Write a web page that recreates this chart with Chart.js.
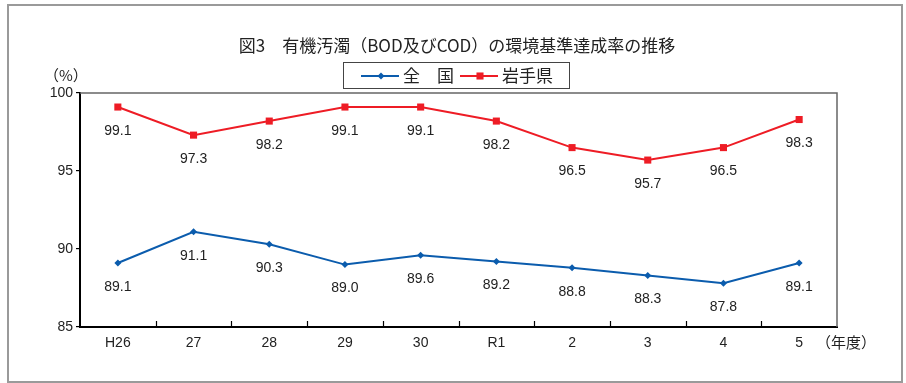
<!DOCTYPE html>
<html>
<head>
<meta charset="utf-8">
<script src="https://cdn.jsdelivr.net/npm/chart.js@4/dist/chart.umd.min.js"></script>
<style>
  html, body { margin: 0; padding: 0; background: #fff; }
  #wrap { width: 906px; height: 383px; position: relative; }
</style>
</head>
<body>
<div id="wrap"><canvas id="c" width="906" height="383"></canvas></div>
<script>
// Fiscal years and achievement rates (%)
const years = ['H26', '27', '28', '29', '30', 'R1', '2', '3', '4', '5'];
const national = [89.1, 91.1, 90.3, 89.0, 89.6, 89.2, 88.8, 88.3, 87.8, 89.1];
const iwate = [99.1, 97.3, 98.2, 99.1, 99.1, 98.2, 96.5, 95.7, 96.5, 98.3];
const seriesNames = ['全　国', '岩手県'];
const yRange = [85, 100];
const yStep = 5;
const titleText = '図3　有機汚濁（BOD及びCOD）の環境基準達成率の推移';
const yUnitText = '（%）';
const xUnitText = '（年度）';

const BLUE = '#0b5cad';
const RED = '#ee1c25';
const TEXT = '#222';
const NUM_FONT = '"Liberation Sans", Arial, sans-serif';
const JP_FONT = '"Noto Sans CJK JP", sans-serif';

// Frame, title, legend, unit labels, inner tick marks and value labels
const decorations = {
  id: 'decorations',
  beforeDraw(chart) {
    const ctx = chart.ctx;
    ctx.save();
    ctx.fillStyle = '#fff';
    ctx.fillRect(0, 0, chart.width, chart.height);
    ctx.strokeStyle = '#9a9a9a';
    ctx.lineWidth = 2;
    ctx.strokeRect(8, 5, 894, 377);
    ctx.restore();
  },
  afterDraw(chart) {
    const ctx = chart.ctx;
    const area = chart.chartArea;
    const xs = chart.scales.x;
    ctx.save();

    // top and right edges of the plot box
    ctx.strokeStyle = '#666';
    ctx.lineWidth = 1.5;
    ctx.beginPath();
    ctx.moveTo(area.left, area.top);
    ctx.lineTo(area.right, area.top);
    ctx.lineTo(area.right, area.bottom);
    ctx.stroke();

    // short inward ticks between categories on the x axis
    ctx.strokeStyle = '#000';
    ctx.lineWidth = 1.2;
    for (let i = 1; i < years.length; i++) {
      const x = Math.round((xs.getPixelForValue(i - 1) + xs.getPixelForValue(i)) / 2) + 0.5;
      ctx.beginPath();
      ctx.moveTo(x, area.bottom);
      ctx.lineTo(x, area.bottom - 6);
      ctx.stroke();
    }

    // value labels below each point
    ctx.fillStyle = TEXT;
    ctx.font = '14px ' + NUM_FONT;
    ctx.textAlign = 'center';
    ctx.textBaseline = 'middle';
    chart.data.datasets.forEach((ds, di) => {
      chart.getDatasetMeta(di).data.forEach((pt, i) => {
        ctx.fillText(ds.data[i].toFixed(1), pt.x, pt.y + 24);
      });
    });

    // title
    ctx.font = '17px ' + JP_FONT;
    ctx.fillText(titleText, 457, 46);

    // unit labels
    ctx.font = '15px ' + JP_FONT;
    ctx.textAlign = 'left';
    ctx.fillText(yUnitText, 44, 75);
    ctx.fillText(xUnitText, 816, 342);

    // legend box
    ctx.strokeStyle = '#444';
    ctx.lineWidth = 1;
    ctx.strokeRect(343.5, 62.5, 226, 26);
    let lx = 361;
    const ly = 76;
    ctx.font = '17px ' + JP_FONT;
    chart.data.datasets.forEach((ds) => {
      ctx.strokeStyle = ds.borderColor;
      ctx.lineWidth = 2;
      ctx.beginPath();
      ctx.moveTo(lx, ly);
      ctx.lineTo(lx + 38, ly);
      ctx.stroke();
      ctx.fillStyle = ds.borderColor;
      Chart.helpers.drawPoint(ctx, {
        pointStyle: ds.pointStyle,
        radius: ds.pointRadius,
        borderWidth: 0,
        rotation: 0
      }, lx + 20, ly);
      ctx.fillStyle = TEXT;
      ctx.textAlign = 'left';
      ctx.fillText(ds.label, lx + 42, ly);
      lx += 42 + ctx.measureText(ds.label).width + 6;
    });

    ctx.restore();
  }
};

new Chart(document.getElementById('c'), {
  type: 'line',
  data: {
    labels: years,
    datasets: [
      {
        label: seriesNames[0],
        data: national,
        borderColor: BLUE,
        backgroundColor: BLUE,
        borderWidth: 2,
        pointStyle: 'rectRot',
        pointRadius: 3.5,
        pointBorderWidth: 0,
        tension: 0
      },
      {
        label: seriesNames[1],
        data: iwate,
        borderColor: RED,
        backgroundColor: RED,
        borderWidth: 2,
        pointStyle: 'rect',
        pointRadius: 5,
        pointBorderWidth: 0,
        tension: 0
      }
    ]
  },
  options: {
    responsive: false,
    animation: false,
    devicePixelRatio: 1,
    layout: { padding: { left: 0, right: 69, top: 93, bottom: 0 } },
    plugins: {
      legend: { display: false },
      title: { display: false },
      tooltip: { enabled: false }
    },
    scales: {
      x: {
        offset: true,
        grid: { display: false, drawTicks: false },
        border: { display: true, color: '#000', width: 2 },
        ticks: {
          color: TEXT,
          padding: 8,
          font: { family: NUM_FONT, size: 14 },
          maxRotation: 0
        },
        afterFit(scale) { scale.height = 56; }
      },
      y: {
        min: yRange[0],
        max: yRange[1],
        grid: {
          display: true,
          drawOnChartArea: false,
          drawTicks: true,
          tickLength: 4,
          color: '#000',
          lineWidth: 1.2
        },
        border: { display: true, color: '#000', width: 2 },
        ticks: {
          stepSize: yStep,
          color: TEXT,
          padding: 3,
          font: { family: NUM_FONT, size: 14 }
        },
        afterFit(scale) { scale.width = 80; }
      }
    }
  },
  plugins: [decorations]
});
</script>
</body>
</html>
